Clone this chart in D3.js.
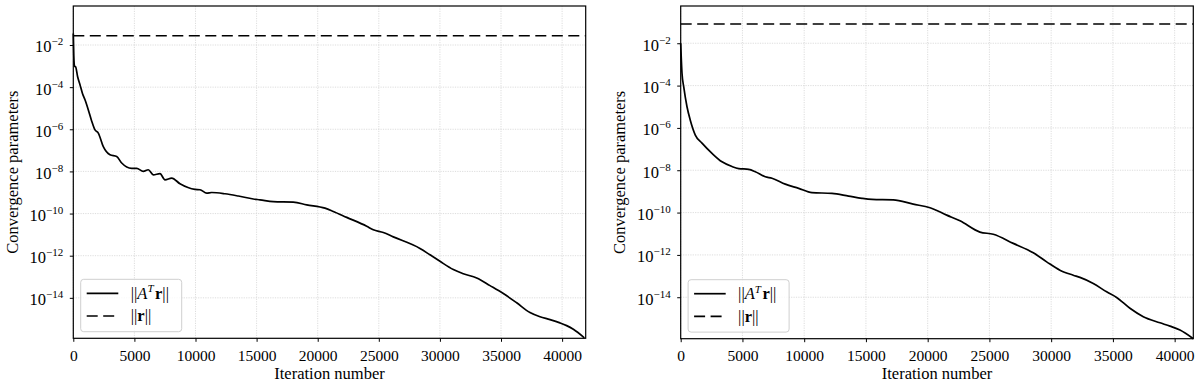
<!DOCTYPE html>
<html>
<head>
<meta charset="utf-8">
<script src="https://cdn.jsdelivr.net/npm/d3@7"></script>
<style>
  html, body { margin: 0; padding: 0; background: #fff; }
  svg { display: block; font-family: "Liberation Serif", "DejaVu Serif", serif; }
  .grid line { stroke: #d4d4d4; stroke-width: 0.8; stroke-dasharray: 1.2,1.2; }
  .axis path, .axis line { stroke: #000; stroke-width: 1; }
  .axis text { fill: #000; font-size: 15.5px; font-family: "Liberation Serif", serif; }
  .yaxis text { font-size: 16.5px; }
</style>
</head>
<body>
<svg id="chart" width="1200" height="386"></svg>
<script>
/* ── Data ────────────────────────────────────────────────── */
const xTicks = [0, 5000, 10000, 15000, 20000, 25000, 30000, 35000, 40000];
const yTickExps = [-2, -4, -6, -8, -10, -12, -14];

// left panel: ||A^T r|| by iteration
const leftIter = [0, 40, 100, 200, 350, 548, 750, 957, 1230, 1500, 1776, 2046, 2455, 3003, 3550,
  3960, 4779, 5188, 5730, 6137, 6546, 7095, 7504, 8052, 8731, 9959, 10368, 10917, 11326, 12414,
  13502, 14730, 15278, 16365, 18002, 19100, 20597, 21276, 22372, 24008, 24550, 25368, 26186,
  28370, 29190, 30008, 31100, 31915, 33010, 34100, 35190, 36285, 37370, 38190, 39010, 39820,
  40370, 40920, 41820];
const leftAtr = [3.5e-2, 3.2e-3, 1.0e-3, 8.9e-4, 3.2e-4, 1.3e-4, 5.0e-5, 2.5e-5, 8.3e-6, 2.5e-6,
  9.3e-7, 6.6e-7, 1.5e-7, 6.2e-8, 5.1e-8, 2.5e-8, 1.4e-8, 1.4e-8, 1.0e-8, 1.2e-8, 6.9e-9, 7.8e-9,
  4.0e-9, 4.8e-9, 2.6e-9, 1.4e-9, 1.35e-9, 9.3e-10, 1.0e-9, 8.7e-10, 6.8e-10, 4.9e-10, 4.5e-10,
  3.7e-10, 3.5e-10, 2.6e-10, 1.8e-10, 1.26e-10, 6.6e-11, 2.5e-11, 1.7e-11, 1.26e-11, 7.8e-12,
  2.2e-12, 1.1e-12, 5.4e-13, 2.2e-13, 1.4e-13, 8.7e-14, 3.8e-14, 1.6e-14, 5.8e-15, 2.0e-15,
  1.26e-15, 9.3e-16, 6.5e-16, 4.8e-16, 3.2e-16, 1.26e-16];
const leftR = 2.75e-2;   // ||r||, flat

// right panel: ||A^T r|| by iteration
const rightIter = [0, 105, 243, 510, 777, 1182, 1725, 2534, 3344, 4154, 4696, 5506, 6040, 6850,
  7392, 8470, 9554, 10630, 12250, 13600, 14680, 15490, 17210, 18830, 20190, 21540, 22615, 24230,
  25310, 26930, 28550, 29635, 30710, 31790, 32330, 33410, 34490, 35300, 36380, 37460, 38810,
  39620, 40430, 41510];
const rightAtr = [1.0e-2, 3.8e-4, 8.9e-5, 1.0e-5, 2.3e-6, 4.6e-7, 1.9e-7, 6.3e-8, 2.5e-8, 1.5e-8,
  1.2e-8, 1.1e-8, 8.5e-9, 4.9e-9, 4.2e-9, 2.2e-9, 1.4e-9, 8.7e-10, 8.1e-10, 6.0e-10, 4.7e-10,
  4.2e-10, 4.0e-10, 2.5e-10, 1.7e-10, 7.6e-11, 4.1e-11, 1.2e-11, 9.5e-12, 3.5e-12, 1.26e-12,
  4.7e-13, 1.9e-13, 1.1e-13, 8.7e-14, 4.5e-14, 1.8e-14, 9.8e-15, 3.0e-15, 1.2e-15, 6.2e-16,
  4.3e-16, 2.8e-16, 1.1e-16];
const rightR = 8.1e-2;

/* ── Layout ──────────────────────────────────────────────── */
const panels = [
  { iter: leftIter, atr: leftAtr, r: leftR, xMax: 41930, yDom: [1.2e-16, 0.71],
    left: 73.3, right: 585.7, top: 6, bottom: 338.3, ylabelX: 18 },
  { iter: rightIter, atr: rightAtr, r: rightR, xMax: 41510, yDom: [1.1e-16, 0.575],
    left: 680.7, right: 1193.3, top: 6, bottom: 338.7, ylabelX: 625 }
];

const svg = d3.select('#chart');

function drawPanel(p) {
  const x = d3.scaleLinear().domain([0, p.xMax]).range([p.left, p.right]);
  const y = d3.scaleLog().domain(p.yDom).range([p.bottom, p.top]);
  const g = svg.append('g');

  /* ── Grid ─────────────────────────────────────────────── */
  const grid = g.append('g').attr('class', 'grid');
  grid.selectAll('line.vx').data(xTicks).join('line')
    .attr('x1', d => x(d)).attr('x2', d => x(d))
    .attr('y1', p.top).attr('y2', p.bottom);
  grid.selectAll('line.hy').data(yTickExps).join('line')
    .attr('x1', p.left).attr('x2', p.right)
    .attr('y1', d => y(Math.pow(10, d))).attr('y2', d => y(Math.pow(10, d)));

  /* ── Axes ─────────────────────────────────────────────── */
  g.append('g').attr('class', 'axis')
    .attr('transform', `translate(0,${p.bottom})`)
    .call(d3.axisBottom(x).tickValues(xTicks).tickSize(3.5).tickPadding(8).tickFormat(d3.format('d')))
    .call(a => a.select('.domain').remove());

  const ya = g.append('g').attr('class', 'axis yaxis')
    .attr('transform', `translate(${p.left},0)`)
    .call(d3.axisLeft(y).tickValues(yTickExps.map(e => Math.pow(10, e))).tickSize(3.5).tickPadding(6.5).tickFormat(''))
    .call(a => a.select('.domain').remove());
  ya.selectAll('.tick text').each(function (d) {
    const t = d3.select(this).attr('dy', '0.42em');
    t.append('tspan').text('10');
    t.append('tspan').attr('dy', -7).attr('font-size', 11)
      .text('\u2212' + Math.abs(Math.round(Math.log10(d))));
  });

  /* ── Series ───────────────────────────────────────────── */
  const pts = p.iter.map((it, i) => [it, p.atr[i]]);
  const line = d3.line().x(d => x(d[0])).y(d => y(d[1])).curve(d3.curveMonotoneX);
  g.append('path').datum(pts)
    .attr('fill', 'none').attr('stroke', '#000').attr('stroke-width', 1.7)
    .attr('stroke-linejoin', 'round').attr('d', line);

  g.append('line')
    .attr('x1', x(0)).attr('x2', x(p.xMax))
    .attr('y1', y(p.r)).attr('y2', y(p.r))
    .attr('stroke', '#000').attr('stroke-width', 1.7).attr('stroke-dasharray', '11,5.5');

  /* ── Frame ────────────────────────────────────────────── */
  g.append('rect')
    .attr('x', p.left).attr('y', p.top)
    .attr('width', p.right - p.left).attr('height', p.bottom - p.top)
    .attr('fill', 'none').attr('stroke', '#000').attr('stroke-width', 1.2);

  /* ── Labels ───────────────────────────────────────────── */
  g.append('text')
    .attr('x', (p.left + p.right) / 2).attr('y', 379)
    .attr('text-anchor', 'middle').attr('font-size', 16.5)
    .text('Iteration number');
  g.append('text')
    .attr('transform', `translate(${p.ylabelX},${(p.top + p.bottom) / 2}) rotate(-90)`)
    .attr('text-anchor', 'middle').attr('font-size', 16.5)
    .text('Convergence parameters');

  /* ── Legend ───────────────────────────────────────────── */
  const lg = g.append('g').attr('transform', `translate(${p.left + 7.4},${p.bottom - 59})`);
  lg.append('rect')
    .attr('width', 101).attr('height', 52.4).attr('rx', 3)
    .attr('fill', '#fff').attr('fill-opacity', 0.8)
    .attr('stroke', '#cfcfcf').attr('stroke-width', 1);
  const rows = [{ dash: null, y: 14 }, { dash: '11,5.5', y: 36.7 }];
  rows.forEach((r, i) => {
    lg.append('line').attr('x1', 6).attr('x2', 37.6).attr('y1', r.y).attr('y2', r.y)
      .attr('stroke', '#000').attr('stroke-width', 1.7)
      .attr('stroke-dasharray', r.dash);
    const t = lg.append('text').attr('x', 50).attr('y', r.y + 5.5).attr('font-size', 16.5);
    t.append('tspan').text('||');
    if (i === 0) {
      t.append('tspan').attr('font-style', 'italic').text('A');
      t.append('tspan').attr('font-style', 'italic').attr('font-size', 11).attr('dy', -6.5).text('T');
      t.append('tspan').attr('font-weight', 'bold').attr('dy', 6.5).attr('dx', 1.5).text('r');
    } else {
      t.append('tspan').attr('font-weight', 'bold').text('r');
    }
    t.append('tspan').text('||');
  });
}

panels.forEach(drawPanel);
</script>
</body>
</html>
